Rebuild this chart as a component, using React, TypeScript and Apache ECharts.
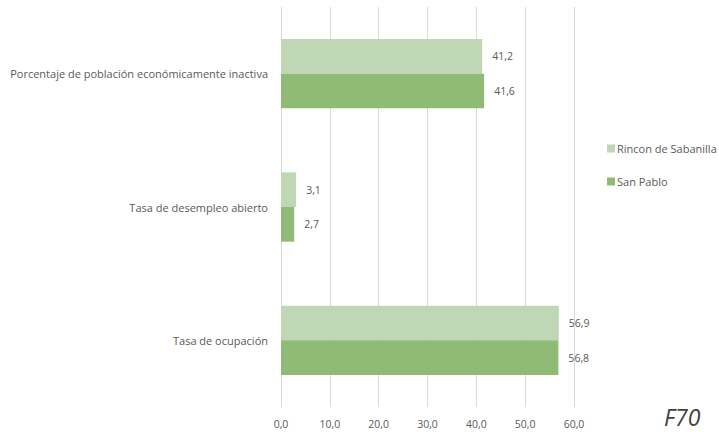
import React, { useEffect, useRef } from "react";
import * as echarts from "echarts";

const categories = [
  "Porcentaje de población económicamente inactiva",
  "Tasa de desempleo abierto",
  "Tasa de ocupación",
];
const seriesNames = ["Rincon de Sabanilla", "San Pablo"];
const rinconValues = [41.2, 3.1, 56.9];
const sanPabloValues = [41.6, 2.7, 56.8];
const xTicks = [0, 10, 20, 30, 40, 50, 60];

const fmt = (v: number) => v.toFixed(1).replace(".", ",");
const FONT = "'Open Sans', 'Noto Sans', sans-serif";
const TXT = "#595959";

export default function App() {
  const ref = useRef<HTMLDivElement>(null);
  useEffect(() => {
    if (!ref.current) return;
    const chart = echarts.init(ref.current, undefined, { renderer: "svg" });
    chart.setOption({
      animation: false,
      textStyle: { fontFamily: FONT },
      grid: { left: 281, right: 145, top: 7, bottom: 28, containLabel: false },
      legend: {
        orient: "vertical",
        left: 602,
        top: 138,
        itemWidth: 8,
        itemHeight: 8,
        itemGap: 22,
        icon: "rect",
        textStyle: { color: TXT, fontSize: 11, fontFamily: FONT, padding: [0, 0, 0, -3] },
        data: seriesNames,
      },
      xAxis: {
        type: "value",
        min: xTicks[0],
        max: xTicks[xTicks.length - 1],
        interval: 10,
        axisLine: { show: false },
        axisTick: { show: false },
        splitLine: { lineStyle: { color: "#d9d9d9", width: 1 } },
        axisLabel: { color: TXT, fontSize: 10.5, margin: 11, formatter: (v: number) => fmt(v) },
      },
      yAxis: {
        type: "category",
        inverse: true,
        data: categories,
        axisLine: { show: true, lineStyle: { color: "#d9d9d9" } },
        axisTick: { show: false },
        axisLabel: { color: TXT, fontSize: 11, margin: 13 },
      },
      series: [
        {
          name: seriesNames[0],
          type: "bar",
          data: rinconValues,
          barCategoryGap: "48%",
          barGap: "0%",
          itemStyle: { color: "#bfd7b4" },
          label: { show: true, position: "right", distance: 10, color: TXT, fontSize: 10.5, formatter: (p: any) => fmt(p.value) },
        },
        {
          name: seriesNames[1],
          type: "bar",
          data: sanPabloValues,
          barCategoryGap: "48%",
          barGap: "0%",
          itemStyle: { color: "#8fbb77" },
          label: { show: true, position: "right", distance: 10, color: TXT, fontSize: 10.5, formatter: (p: any) => fmt(p.value) },
        },
      ],
      graphic: [
        {
          type: "text",
          left: 664,
          top: 405,
          style: { text: "F70", font: "italic 23px " + FONT, fill: "#404040" },
        },
      ],
    });
    return () => chart.dispose();
  }, []);
  return <div ref={ref} style={{ width: 719, height: 435, position: "absolute", left: 0, top: 0 }} />;
}
